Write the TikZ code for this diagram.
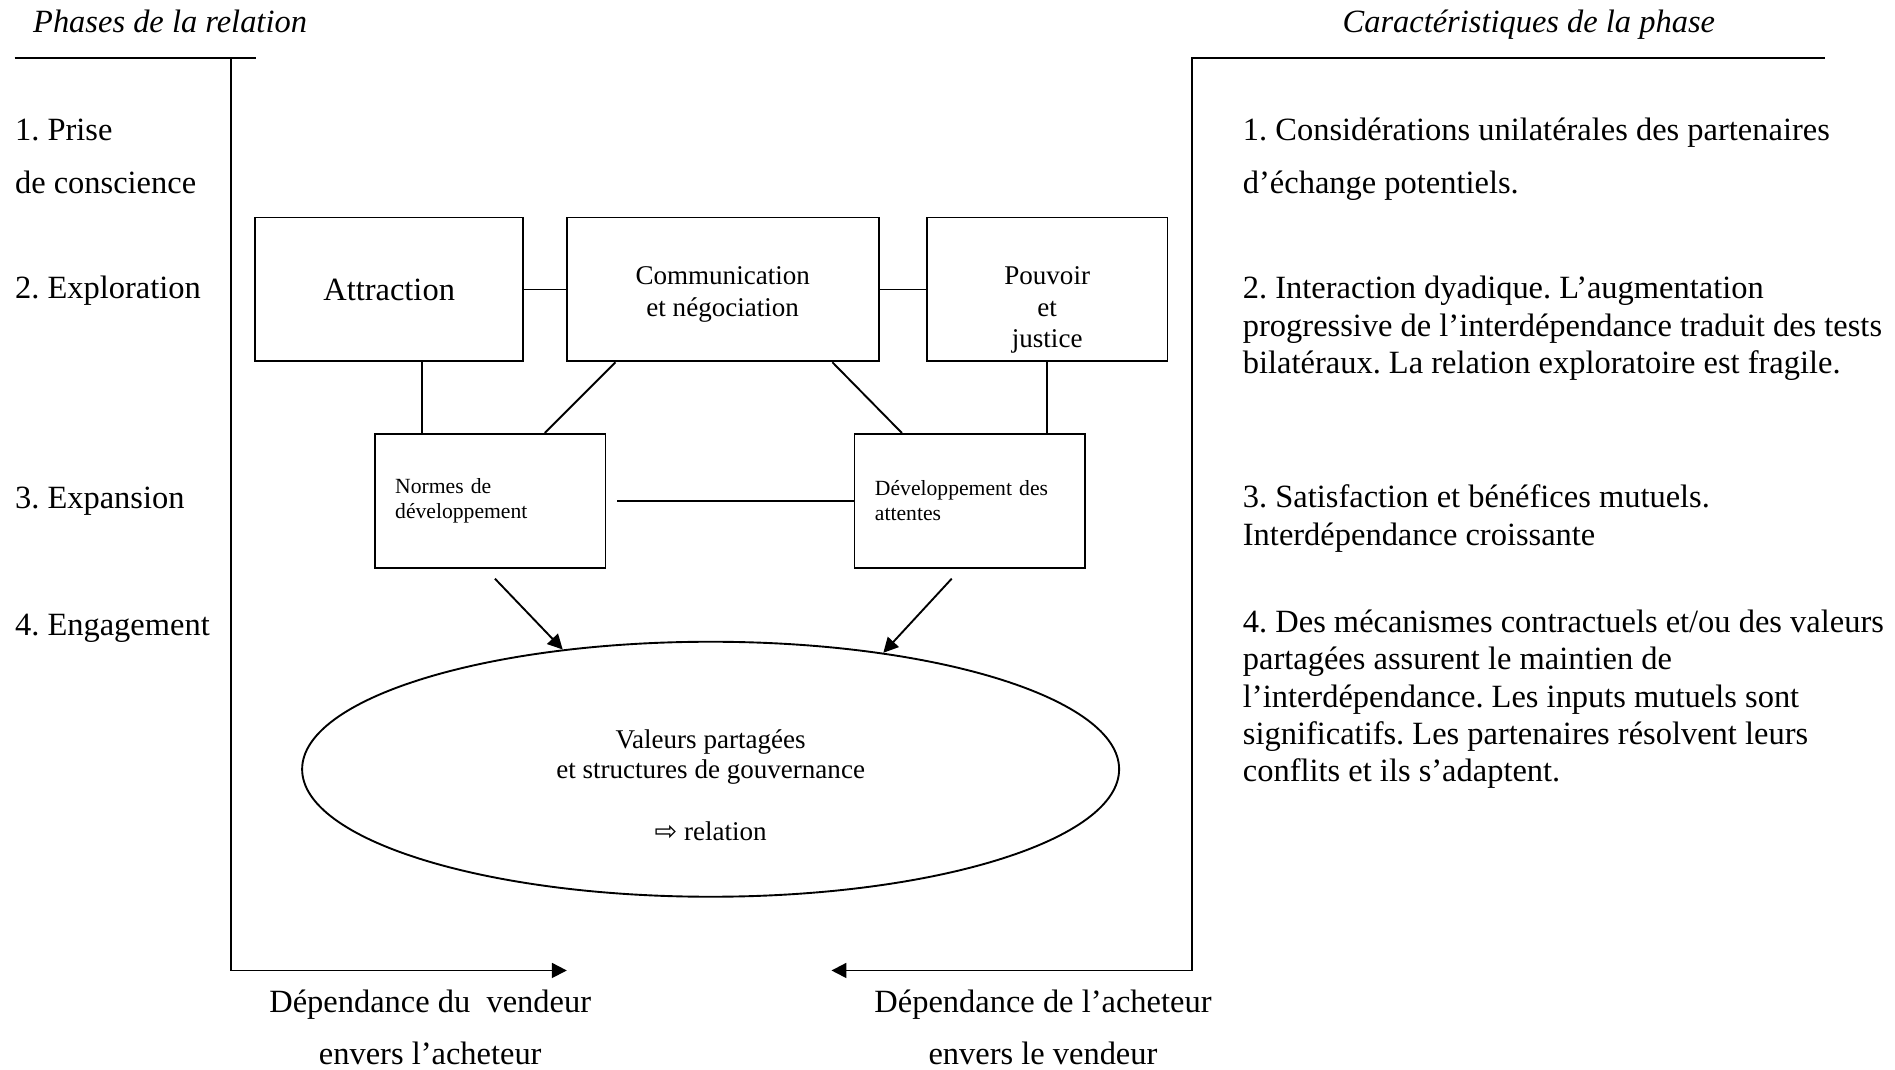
\documentclass[tikz,border=0pt]{standalone}
\usepackage{fontspec}
\setmainfont{Liberation Serif}
\newfontfamily\arrowfont{DejaVu Sans}
\usetikzlibrary{arrows.meta,positioning,shapes.geometric,calc}
\newcommand{\unitpx}{0.0157cm}
\frenchspacing

\begin{document}
\begin{tikzpicture}[x=0.0157cm, y=-0.0157cm,
    bigbox/.style={draw, line width=0.7pt, minimum height=119*\unitpx, align=center, font=\fontsize{10}{11.6}\selectfont},
    smallbox/.style={draw, line width=0.7pt, minimum width=191*\unitpx, minimum height=111*\unitpx, text width=157*\unitpx, align=left, font=\fontsize{8}{9.3}\selectfont},
    lnk/.style={line width=0.7pt},
    arr/.style={-{Triangle[length=5.5pt,width=5.5pt]}, line width=0.7pt},
    phase/.style={anchor=base west, inner xsep=0pt, align=left, font=\fontsize{12}{19.6}\selectfont},
    caract/.style={anchor=base west, inner xsep=0pt, align=left, font=\fontsize{12}{13.8}\selectfont},
    head/.style={anchor=base, inner xsep=0pt, font=\itshape\fontsize{12}{14}\selectfont},
    dep/.style={anchor=base, align=center, font=\fontsize{12}{19.3}\selectfont}
  ]
    \useasboundingbox (0,0) rectangle (1568,885);

    % Headings and brackets
    \node[head, anchor=base west] (hphase) at (27,27) {Phases de la relation};
    \node[head] (hcarac) at (1265,27) {Caractéristiques de la phase};

    \coordinate (ltop) at (12,48);
    \coordinate (lend) at (212,48);
    \coordinate (lknee) at (191,48);
    \coordinate (lfoot) at (191,803);
    \coordinate (ltip) at (469,803);
    \draw[lnk] (ltop) -- (lend);
    \draw[arr] (lknee) -- (lfoot) -- (ltip);

    \coordinate (rtop) at (1510,48);
    \coordinate (rknee) at (986,48);
    \coordinate (rfoot) at (986,803);
    \coordinate (rtip) at (688,803);
    \draw[arr] (rtop) -- (rknee) -- (rfoot) -- (rtip);

    % Phases (left), base = last line
    \node[phase] (ph1) at (12,160) {1. Prise\\de conscience};
    \node[phase] (ph2) at (12,247) {2. Exploration};
    \node[phase] (ph3) at (12,421) {3. Expansion};
    \node[phase] (ph4) at (12,526) {4. Engagement};

    % Caracteristiques (right)
    \node[phase] (ca1) at (1028,160) {1. Considérations unilatérales des partenaires\\d’échange potentiels.};
    \node[caract] (ca2) at (1028,309) {2. Interaction dyadique. L’augmentation\\progressive de l’interdépendance traduit des tests\\bilatéraux. La relation exploratoire est fragile.};
    \node[caract] (ca3) at (1028,451) {3. Satisfaction et bénéfices mutuels.\\Interdépendance croissante};
    \node[caract] (ca4) at (1028,647) {4. Des mécanismes contractuels et/ou des valeurs\\partagées assurent le maintien de\\l’interdépendance. Les inputs mutuels sont\\significatifs. Les partenaires résolvent leurs\\conflits et ils s’adaptent.};

    % Boxes
    \node[bigbox, minimum width=222*\unitpx, font=\fontsize{12}{14}\selectfont] (attr) at (322,239.5) {Attraction};
    \node[bigbox, minimum width=258*\unitpx] (comm) at (598,239.5) {};
    \node[align=center, font=\fontsize{10}{11.6}\selectfont] (commtxt) at ($(comm.center)+(0,4)$) {Communication\\et négociation};
    \node[bigbox, minimum width=199*\unitpx] (pouv) at (866.5,239.5) {};
    \node[align=center, font=\fontsize{10}{11.6}\selectfont] (pouvtxt) at ($(pouv.center)+(0,17)$) {Pouvoir\\et\\justice};
    \node[smallbox] (norm) at (405.5,414.5) {Normes de\\développement};
    \node[smallbox] (dev) at (802.5,414.5) {Développement des\\attentes};

    \draw[lnk] (attr.east) -- (comm.west);
    \draw[lnk] (comm.east) -- (pouv.west);
    \draw[lnk] ([xshift=40*\unitpx]norm.north west) -- ([xshift=40*\unitpx]norm.north west |- attr.south);
    \draw[lnk] ([xshift=41*\unitpx]comm.south west) -- ([xshift=-51*\unitpx]norm.north east);
    \draw[lnk] ([xshift=-39*\unitpx]comm.south east) -- ([xshift=40*\unitpx]dev.north west);
    \draw[lnk] (pouv.south) -- (pouv.south |- dev.north);
    \draw[lnk, shorten <=4pt] (norm.east) -- (dev.west);

    % Ellipse
    \node[draw, ellipse, line width=0.7pt, minimum width=676*\unitpx, minimum height=211*\unitpx, inner sep=0pt] (ell) at (588,636.5) {};
    \node[align=center, font=\fontsize{10}{11.2}\selectfont] (valtxt) at ($(ell.center)+(0,13)$) {Valeurs partagées\\et structures de gouvernance\\[11.6pt]{\arrowfont\fontsize{10}{11}\selectfont ⇨} relation};
    \draw[arr] ([xshift=4*\unitpx, yshift=-8*\unitpx]norm.south) -- (ell.141);
    \draw[arr] ([xshift=-15*\unitpx, yshift=-8*\unitpx]dev.south) -- (ell.34);

    % Dependance
    \node[dep] (depv) at (356,881) {Dépendance du\ \ vendeur\\envers l’acheteur};
    \node[dep] (depa) at (863,881) {Dépendance de l’acheteur\\envers le vendeur};

  \end{tikzpicture}
\end{document}
